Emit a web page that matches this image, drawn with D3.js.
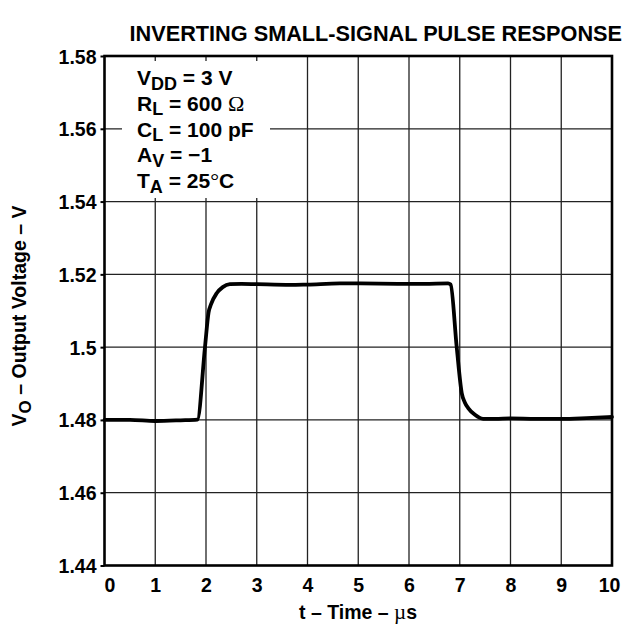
<!DOCTYPE html>
<html>
<head>
<meta charset="utf-8">
<script src="https://cdn.jsdelivr.net/npm/d3@7"></script>
<style>
  html, body { margin: 0; padding: 0; background: #fff; }
  svg { display: block; }
  text { font-family: "Liberation Sans", Arial, Helvetica, sans-serif; font-weight: bold; fill: #000; }
  .sym { font-family: "Liberation Serif", "Times New Roman", serif; font-weight: normal; }
</style>
</head>
<body>
<svg id="chart" width="626" height="625"></svg>
<script>
// Output waveform of the inverting amplifier, time in microseconds, output in volts
const timeUs = [0, 0.5, 1.0, 1.5, 1.83, 1.98, 2.05, 2.10, 2.21, 2.33, 2.47, 2.7, 3.0, 3.66, 4.0, 4.64, 5.0, 5.82, 6.3, 6.77, 6.82, 6.94, 7.04, 7.10, 7.17, 7.3, 7.46, 7.7, 8.0, 8.5, 9.0, 9.5, 10.0];
const outputV = [1.4800, 1.4800, 1.4797, 1.4799, 1.4801, 1.5000, 1.5095, 1.5118, 1.5148, 1.5165, 1.5173, 1.5174, 1.5173, 1.5171, 1.5172, 1.5175, 1.5175, 1.5174, 1.5174, 1.5175, 1.5172, 1.5000, 1.4873, 1.4848, 1.4832, 1.4814, 1.4803, 1.4803, 1.4804, 1.4803, 1.4803, 1.4805, 1.4808];

const xTicks = [0, 1, 2, 3, 4, 5, 6, 7, 8, 9, 10];
const yTicks = [1.44, 1.46, 1.48, 1.50, 1.52, 1.54, 1.56, 1.58];
const yTickLabels = ["1.44", "1.46", "1.48", "1.5", "1.52", "1.54", "1.56", "1.58"];

const svg = d3.select("#chart");
const plot = { left: 104.5, right: 612, top: 56, bottom: 565.5 };

const x = d3.scaleLinear().domain([0, 10]).range([plot.left, plot.right]);
const y = d3.scaleLinear().domain([1.44, 1.58]).range([plot.bottom, plot.top]);

svg.append("rect").attr("width", 626).attr("height", 625).attr("fill", "#fff");

// grid
const grid = svg.append("g").attr("stroke", "#222").attr("stroke-width", 1.3);
grid.selectAll("line.v").data(xTicks.slice(1, -1)).join("line")
  .attr("x1", d => x(d)).attr("x2", d => x(d))
  .attr("y1", plot.top).attr("y2", plot.bottom);
grid.selectAll("line.h").data(yTicks.slice(1, -1)).join("line")
  .attr("x1", plot.left).attr("x2", plot.right)
  .attr("y1", d => y(d)).attr("y2", d => y(d));

// left tick marks and labels
const yAxis = d3.axisLeft(y).tickValues(yTicks).tickSize(4).tickPadding(4)
  .tickFormat((d, i) => yTickLabels[i]);
const gy = svg.append("g").attr("transform", `translate(${plot.left},0)`).call(yAxis);
gy.select(".domain").remove();
gy.selectAll(".tick line").attr("stroke", "#000").attr("stroke-width", 2);
gy.selectAll(".tick text").style("font-size", "19.5px").attr("dy", "0.36em");

// bottom labels
const xAxis = d3.axisBottom(x).tickValues(xTicks).tickSize(0).tickPadding(13).tickFormat(d3.format("d"));
const gx = svg.append("g").attr("transform", `translate(0,${plot.bottom})`).call(xAxis);
gx.select(".domain").remove();
gx.selectAll(".tick text").style("font-size", "19.5px")
  .attr("dx", d => d === 0 ? 5 : d === 10 ? -3 : 0);

// conditions box
svg.append("rect").attr("x", 122).attr("y", 61).attr("width", 148).attr("height", 137).attr("fill", "#fff");

const notes = [
  { main: "V", sub: "DD", rest: " = 3 V" },
  { main: "R", sub: "L", rest: " = 600 ", sym: "\u03A9" },
  { main: "C", sub: "L", rest: " = 100 pF" },
  { main: "A", sub: "V", rest: " = \u22121" },
  { main: "T", sub: "A", rest: " = 25", sym: "\u00B0", tail: "C" }
];
const noteG = svg.append("g");
notes.forEach((n, i) => {
  const t = noteG.append("text").attr("x", 137).attr("y", 85 + i * 25.75).style("font-size", "21px");
  t.append("tspan").text(n.main);
  t.append("tspan").attr("dy", 4.5).style("font-size", "18px").text(n.sub);
  t.append("tspan").attr("dy", -4.5).text(n.rest);
  if (n.sym) t.append("tspan").attr("class", "sym").style("font-size", "22px").text(n.sym);
  if (n.tail) t.append("tspan").text(n.tail);
});

// frame
svg.append("rect").attr("x", plot.left).attr("y", plot.top)
  .attr("width", plot.right - plot.left).attr("height", plot.bottom - plot.top)
  .attr("fill", "none").attr("stroke", "#000").attr("stroke-width", 2.6);

// waveform
const pts = timeUs.map((t, i) => [t, outputV[i]]);
svg.append("path").datum(pts)
  .attr("fill", "none").attr("stroke", "#000").attr("stroke-width", 3.8)
  .attr("stroke-linejoin", "round").attr("stroke-linecap", "round")
  .attr("d", d3.line().x(d => x(d[0])).y(d => y(d[1])).curve(d3.curveMonotoneX));

// title
svg.append("text").attr("x", 622).attr("y", 41).attr("text-anchor", "end")
  .style("font-size", "21.7px").text("INVERTING SMALL-SIGNAL PULSE RESPONSE");

// axis titles
const xt = svg.append("text").attr("x", 358).attr("y", 619).attr("text-anchor", "middle").style("font-size", "19.5px");
xt.append("tspan").text("t \u2013 Time \u2013 ");
xt.append("tspan").attr("class", "sym").style("font-size", "21px").text("\u00B5");
xt.append("tspan").text("s");

const yt = svg.append("text").attr("transform", "translate(26,316) rotate(-90)")
  .attr("text-anchor", "middle").style("font-size", "19.5px");
yt.append("tspan").text("V");
yt.append("tspan").attr("dy", 4.5).style("font-size", "17px").text("O");
yt.append("tspan").attr("dy", -4.5).text(" \u2013 Output Voltage \u2013 V");
</script>
</body>
</html>
